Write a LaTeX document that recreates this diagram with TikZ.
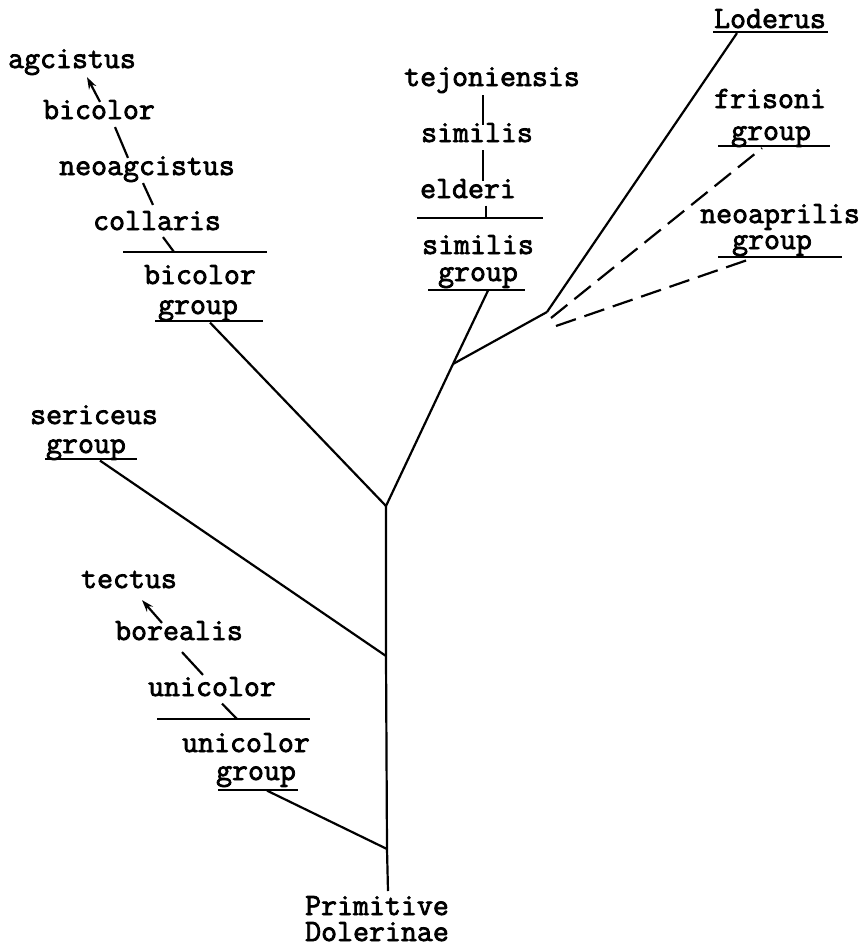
\documentclass[tikz,border=0pt]{standalone}
\usepackage{fontspec}
\newfontfamily\typewriter{Latin Modern Mono}[FakeBold=2.5]
\usepackage{tikz}
\usetikzlibrary{calc,positioning,arrows.meta}

\begin{document}
\begin{tikzpicture}[x=1pt, y=-1pt, line width=2.2pt, >={Stealth[length=12pt,width=8pt]},
    every node/.style={font=\typewriter\fontsize{31}{33}\selectfont,
      inner sep=0pt, text height=17pt, text depth=5pt}]

    \useasboundingbox (0,0) rectangle (867,950);

    % === Junctions on the tree ===
    \coordinate (root)   at (386,506);
    \coordinate (serjn)  at (386,656);
    \coordinate (unijn)  at (387,849);
    \coordinate (base)   at (388,891);
    \coordinate (simjn)  at (453,364);
    \coordinate (lodjn)  at (547,312);
    \coordinate (frijn)  at (551,318);
    \coordinate (neojn)  at (556,326);
    \coordinate (bicbar) at (174,252);
    \coordinate (simbar) at (486,218);
    \coordinate (unibar) at (237,719);

    % === Labels ===
    % --- bicolor group (upper left) ---
    \node (agcistus)    at (72,62)   {agcistus};
    \node (bicolorsp)   at (99,113)  {bicolor};
    \node (neoagcistus) at (147,169) {neoagcistus};
    \node (collaris)    at (157,224) {collaris};
    \node (bicolorgrp)  at (200,278) {bicolor};
    \node (bicolorg)    at (198,308) {group};

    % --- similis group (middle) ---
    \node (tejoniensis) at (492,80)  {tejoniensis};
    \node (similissp)   at (477,136) {similis};
    \node (elderi)      at (468,192) {elderi};
    \node (similisgrp)  at (478,248) {similis};
    \node (similisg)    at (478,275) {group};

    % --- right side ---
    \node (loderus)     at (770,22)  {Loderus};
    \node (frisoni)     at (770,102) {frisoni};
    \node (frisonig)    at (771,134) {group};
    \node (neoaprilis)  at (780,217) {neoaprilis};
    \node (neoaprilisg) at (772,243) {group};

    % --- lower left ---
    \node (sericeus)    at (94,418)  {sericeus};
    \node (sericeusg)   at (86,447)  {group};
    \node (tectus)      at (129,582) {tectus};
    \node (borealis)    at (179,634) {borealis};
    \node (unicolorsp)  at (212,690) {unicolor};
    \node (unicolorgrp) at (246,746) {unicolor};
    \node (unicolorg)   at (256,774) {group};

    % --- base ---
    \node (primitive)   at (377,909) {Primitive};
    \node (dolerinae)   at (377,935) {Dolerinae};

    % === Underlines and bars ===
    \draw (713,32)  -- (828,32);
    \draw (718,146) -- (830,146);
    \draw (718,257) -- (842,257);
    \draw (428,290) -- (525,290);
    \draw (155,321) -- (263,321);
    \draw (45,459)  -- (137,459);
    \draw (218,790) -- (298,790);
    \draw (123,252) -- (267,252);
    \draw (417,218) -- (543,218);
    \draw (157,719) -- (310,719);

    % === Main stem and branches ===
    \draw (base) -- (unijn) -- (serjn) -- (root);
    \draw (root) -- (simjn) -- (lodjn);
    \draw ([shift={(12pt,-2.5pt)}]bicolorg.south) -- (root);
    \draw ([shift={(14pt,-1.5pt)}]sericeusg.south) -- (serjn);
    \draw ([shift={(11pt,-4.5pt)}]unicolorg.south) -- (unijn);
    \draw ([shift={(10pt,-3.5pt)}]similisg.south) -- (simjn);
    \draw (lodjn) -- ([shift={(-33pt,1pt)}]loderus.south);
    \draw[dash pattern=on 21pt off 9pt] (frijn) -- ([shift={(-9pt,-2pt)}]frisonig.south);
    \draw[dash pattern=on 21pt off 9pt] (neojn) -- ([shift={(-19pt,-3pt)}]neoaprilisg.south);

    % === Species chains ===
    \draw[->] ([shift={(1pt,-1pt)}]bicolorsp.north) -- ([shift={(15pt,-3pt)}]agcistus.south);
    \draw ([shift={(16pt,-2pt)}]bicolorsp.south) -- ([shift={(-19pt,-1pt)}]neoagcistus.north);
    \draw ([shift={(-4pt,-2pt)}]neoagcistus.south) -- ([shift={(-4pt,7pt)}]collaris.north);
    \draw ([shift={(6pt,-1pt)}]collaris.south) -- (bicbar);

    \draw ([shift={(-9pt,-3pt)}]tejoniensis.south) -- ([shift={(6pt,-1pt)}]similissp.north);
    \draw ([shift={(6pt,-2pt)}]similissp.south) -- ([shift={(15pt,-1pt)}]elderi.north);
    \draw ([shift={(18pt,-1.5pt)}]elderi.south) -- (simbar);

    \draw[->] ([shift={(-17pt,-1pt)}]borealis.north) -- ([shift={(13pt,-6pt)}]tectus.south);
    \draw ([shift={(3pt,-6pt)}]borealis.south) -- ([shift={(-9pt,3pt)}]unicolorsp.north);
    \draw ([shift={(10pt,-1.5pt)}]unicolorsp.south) -- (unibar);
\end{tikzpicture}
\end{document}
